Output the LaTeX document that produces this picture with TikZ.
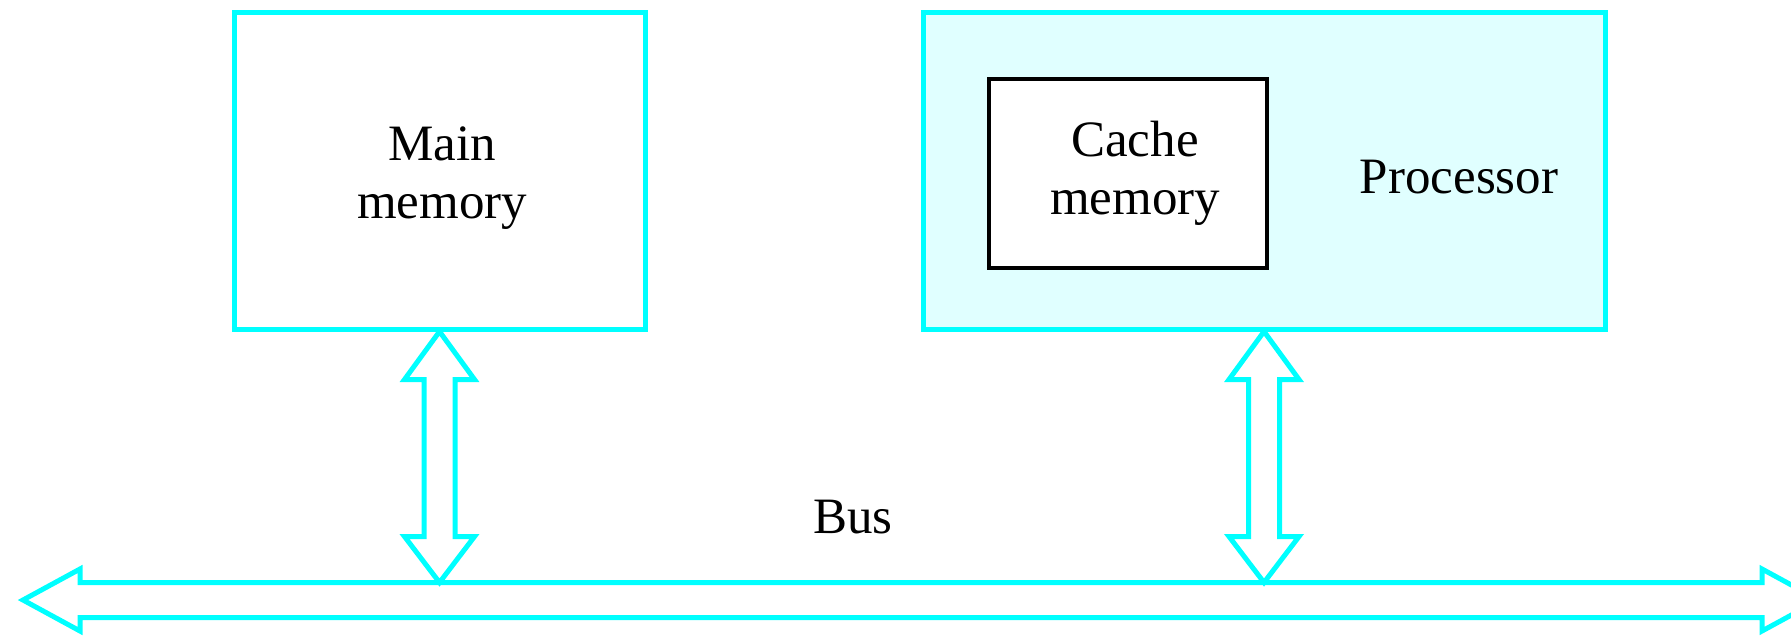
\documentclass[tikz,border=0pt]{standalone}
\usepackage{fontspec}
\setmainfont{Liberation Serif}
\usetikzlibrary{calc}
\definecolor{cy}{HTML}{00FFFF}
\definecolor{cyfill}{HTML}{E0FFFF}
\tikzset{
  cybox/.style={draw=cy, line width=2.5pt, inner sep=0pt, rectangle},
  blkbox/.style={draw=black, line width=2pt, fill=white, inner sep=0pt, rectangle},
  lbl/.style={font=\fontsize{25.5}{29}\selectfont, inner sep=0pt, align=center, text=black},
  fatarrow/.style={draw=cy, line width=2.5pt, fill=white, line join=miter}
}
\begin{document}
\begin{tikzpicture}[x=0.5pt, y=-0.5pt]
\useasboundingbox (0,0) rectangle (1791,638);
\clip (0,0) rectangle (1791,638);
% boxes
\node[cybox, minimum width=205.5pt, minimum height=158.5pt] (mm) at (439.5,170.5) {};
\node[cybox, fill=cyfill, minimum width=341pt, minimum height=158.5pt] (proc) at (1264,170.5) {};
\node[blkbox, minimum width=139pt, minimum height=94.5pt] (cache) at (1128,173.5) {};
% labels
\node[lbl] (mmlabel) at (442,178) {Main\\memory};
\node[lbl] (cachelabel) at (1135,173) {Cache\\memory};
\node[lbl, anchor=base] (proclabel) at (1459,193) {Processor};
\node[lbl, anchor=base] (buslabel) at (853,533) {Bus};
% bus
\coordinate (busL) at (23,600);
\coordinate (busR) at (1819,600);
\draw[fatarrow] (busL) -- ++(57,-31) -- ++(0,13.5) -- ($(busR)+(-57,-17.5)$) -- ++(0,-13.5) -- (busR)
  -- ++(-57,31) -- ++(0,-13.5) -- ($(busL)+(57,17.5)$) -- ++(0,13.5) -- cycle;
\coordinate (bustop) at (0,582.5);
% vertical double arrows
\coordinate (mmtop) at (mm.south);
\coordinate (mmbot) at (mmtop |- bustop);
\coordinate (prtop) at (proc.south);
\coordinate (prbot) at (prtop |- bustop);
\foreach \t/\b in {mmtop/mmbot, prtop/prbot}{
  \draw[fatarrow] (\t) -- ($(\t)+(35,48)$) -- ($(\t)+(15.5,48)$) -- ($(\b)+(15.5,-46)$) -- ($(\b)+(35,-46)$) -- (\b)
    -- ($(\b)+(-35,-46)$) -- ($(\b)+(-15.5,-46)$) -- ($(\t)+(-15.5,48)$) -- ($(\t)+(-35,48)$) -- cycle;
}
\end{tikzpicture}
\end{document}
